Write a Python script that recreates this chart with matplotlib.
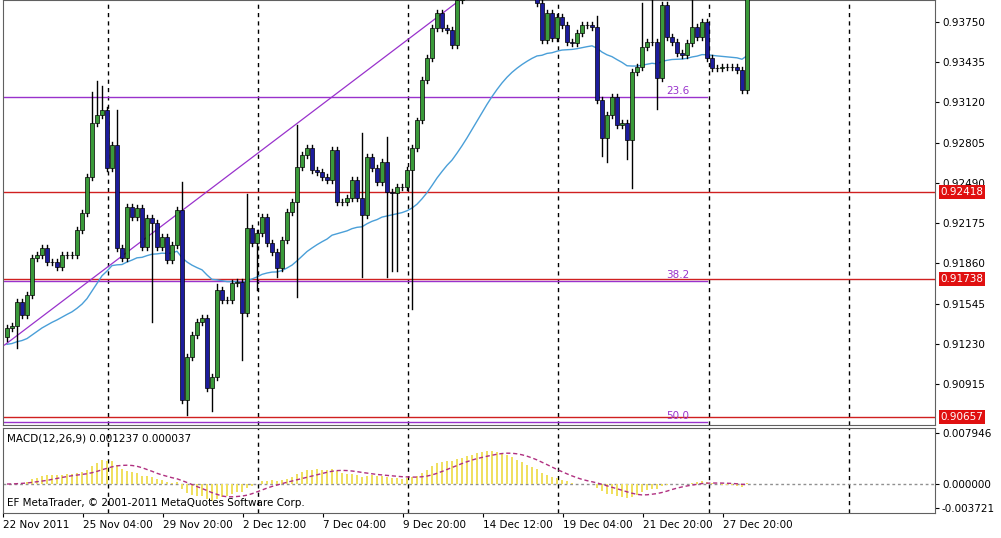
import numpy as np
import pandas as pd
import matplotlib
matplotlib.use("Agg")
import matplotlib.pyplot as plt
from matplotlib.patches import Rectangle

closes = [
.91354,.91369,.91557,.91456,.91612,.91902,.91925,.91980,.91871,.91871,.91831,.91925,.91925,.91925,.92121,.92254,
.92536,.92959,.93022,.93061,.92607,.92787,.91980,.91902,.92301,.92223,.92293,.91988,.92215,.92176,.91988,.92066,
.91886,.92004,.92278,.90790,.91127,.91299,.91401,.91432,.90884,.90970,.91651,.91573,.91573,.91706,.91714,.91471,
.92137,.92019,.92098,.92223,.92019,.91949,.91824,.92043,.92262,.92340,.92614,.92708,.92763,.92591,.92575,.92536,
.92513,.92748,.92340,.92340,.92372,.92513,.92372,.92239,.92693,.92607,.92497,.92654,.92419,.92411,.92458,
.92458,.92591,.92763,.92982,.93296,.93468,.93703,.93820,.93703,.93687,.93570,.93922,
.9405,.9420,.9435,.9440,.9450,.9455,.9450,.9445,.9440,.9430,.9420,.9410,.9405,.9400,.9397,.9390,
.93609,.93820,.93624,.93789,.93726,.93593,.93585,.93664,.93726,.93726,.93711,.93139,.92841,.93022,.93162,.92943,
.92959,.92826,.93358,.93397,.93554,.93593,.93593,.93311,.93883,.93632,.93593,.93507,.93491,.93585,.93711,.93632,
.93750,.93468,.93390,.93390,.93397,.93397,.93397,.93374,.93217,.9408]
first_open = 0.9128
ma_seed = 0.9122
# notable wick extremes: index -> price
high_over = {17: .9320, 18: .9329, 19: .9325, 22: .9306, 35: .9250, 42: .9170, 48: .9240, 58: .9294,
             71: .9288, 76: .9285, 82: .9300, 118: .9380, 127: .9390, 129: .9395, 137: .9392}
low_over = {2: .9120, 29: .9140, 36: .9067, 41: .9070, 47: .9110, 50: .9165, 54: .9175, 58: .9160,
            71: .9175, 76: .9175, 77: .9180, 78: .9180, 81: .9150, 119: .9270, 120: .9265, 124: .9268,
            125: .9245, 130: .9307}

fib_levels = [(.93162, "23.6"), (.91722, "38.2"), (.90620, "50.0")]
red_levels = [.92418, .91738, .90657]
yticks = [.93750, .93435, .93120, .92805, .92490, .92175, .91860, .91545, .91230, .90915]
xlabels = ["22 Nov 2011", "25 Nov 04:00", "29 Nov 20:00", "2 Dec 12:00", "7 Dec 04:00",
           "9 Dec 20:00", "14 Dec 12:00", "19 Dec 04:00", "21 Dec 20:00", "27 Dec 20:00"]
xlabel_pos = [-0.8 + 16 * k for k in range(10)]
vlines = [20.2, 50.2, 80.2, 110.2, 140.4, 168.4]

c = np.array(closes)
n = len(c)
o = np.concatenate([[first_open], c[:-1]])
hi = np.maximum(o, c) + 0.00025
lo = np.minimum(o, c) - 0.00025
for k, v in high_over.items(): hi[k] = v
for k, v in low_over.items(): lo[k] = v
x = np.arange(n)

fig = plt.figure(figsize=(10.01, 5.38), dpi=100)
ax = fig.add_axes([3/1001, 113/538, 932/1001, 425/538])
ax2 = fig.add_axes([3/1001, 25/538, 932/1001, 85/538])
xmin, xmax = -0.8, 185.6
for a in (ax, ax2):
    a.set_xlim(xmin, xmax)
    for s in a.spines.values():
        s.set_color("#606060")
    for v in vlines:
        a.axvline(v, color="black", ls=(0, (3, 3)), lw=1, zorder=1)
ax.set_ylim(.90594, .93922)

# MA
ma = pd.Series(np.concatenate([[ma_seed], c])).ewm(span=45, adjust=False).mean().values[1:]
ax.plot(x, ma, color="#4a9fd8", lw=1, zorder=3)
# trendline
ax.plot([-0.5, 90.6], [.91220, .93922], color="#9932cc", lw=0.9, zorder=3)
for v, t in fib_levels:
    ax.plot([xmin, 140], [v, v], color="#9932cc", lw=1, zorder=2)
    ax.text(136.5, v + 0.00005, t, color="#9932cc", fontsize=7.5, ha="right", va="bottom")
for v in red_levels:
    ax.axhline(v, color="#d02020", lw=1, zorder=2)

for i in range(n):
    ax.plot([x[i], x[i]], [lo[i], hi[i]], color="black", lw=1, zorder=4)
    b0, b1 = min(o[i], c[i]), max(o[i], c[i])
    col = "#3a9a3a" if c[i] >= o[i] else "#1c1c9c"
    ax.add_patch(Rectangle((x[i] - 0.32, b0), 0.64, max(b1 - b0, 0.00003), facecolor=col,
                           edgecolor="black", lw=0.5, zorder=5))

ax.yaxis.tick_right()
ax.set_yticks(yticks)
ax.set_yticklabels([f"{v:.5f}" for v in yticks], fontsize=7.5)
ax.tick_params(axis="y", length=3, pad=2)
ax.set_xticks([])
for v in red_levels:
    ax.text(1.006, v, f"{v:.5f}", transform=ax.get_yaxis_transform(), fontsize=7.5, color="white",
            va="center", ha="left", bbox=dict(facecolor="#e01010", edgecolor="none", pad=1.2))

# MACD
e12 = pd.Series(c).ewm(span=12, adjust=False).mean()
e26 = pd.Series(c).ewm(span=26, adjust=False).mean()
macd = (e12 - e26).values
sig = pd.Series(macd).rolling(9, min_periods=1).mean().values
ax2.bar(x, macd, width=0.35, color="#f0e060", zorder=3)
ax2.plot(x, sig, color="#b03080", ls=(0, (3, 2)), lw=1, zorder=4)
ax2.axhline(0, color="#909090", ls=(0, (2, 2)), lw=1, zorder=2)
ax2.set_ylim(-0.00452, 0.00873)
ax2.yaxis.tick_right()
ax2.set_yticks([0.007946, 0.0, -0.003721])
ax2.set_yticklabels(["0.007946", "0.000000", "-0.003721"], fontsize=7.5)
ax2.tick_params(axis="y", length=3, pad=2)
ax2.text(0.004, 0.93, "MACD(12,26,9) 0.001237 0.000037", transform=ax2.transAxes, fontsize=7.5, va="top")
ax2.text(0.004, 0.06, "EF MetaTrader, © 2001-2011 MetaQuotes Software Corp.", transform=ax2.transAxes,
         fontsize=7.5, va="bottom")
ax2.set_xticks(xlabel_pos)
ax2.set_xticklabels(xlabels, fontsize=7.5, ha="left")
ax2.tick_params(axis="x", length=3, pad=2)

fig.savefig("out.png", dpi=100)
